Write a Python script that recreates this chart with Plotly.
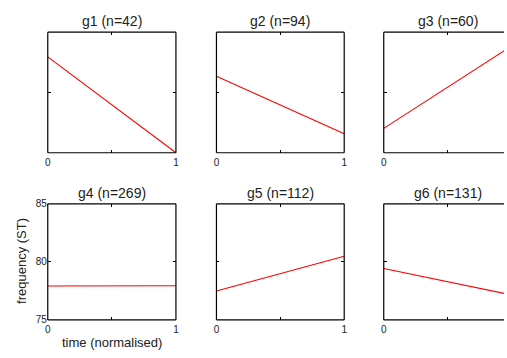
import plotly.graph_objects as go

titles = ["g1 (n=42)", "g2 (n=94)", "g3 (n=60)", "g4 (n=269)", "g5 (n=112)", "g6 (n=131)"]
time_pts = [0, 1]
g1_vals = [82.95, 75.0]
g2_vals = [81.34, 76.57]
g3_vals = [77.02, 83.85]
g4_vals = [77.92, 77.95]
g5_vals = [77.50, 80.49]
g6_vals = [79.43, 77.15]
series = [g1_vals, g2_vals, g3_vals, g4_vals, g5_vals, g6_vals]
x_tickvals = [0, 0.5, 1]
x_ticktext = ["0", "", "1"]
y_tickvals = [75, 80, 85]
y_ticktext = ["75", "80", "85"]

W, H = 507, 358
col_px = [(45.3, 175.0), (216.0, 345.3), (385.3, 507.0)]
row_px = [(28.0, 152.0), (204.5, 324.0)]
col3_full_right = 514.6

fig = go.Figure()
font = "Liberation Sans, Arial, sans-serif"
layout = dict(width=W, height=H, margin=dict(l=0, r=0, t=0, b=0),
              paper_bgcolor="white", plot_bgcolor="white", showlegend=False,
              font=dict(family=font, color="#222"))
annotations = []
shapes = []
for i, vals in enumerate(series):
    r, c = divmod(i, 3)
    idx = i + 1
    xa = "x" if idx == 1 else f"x{idx}"
    ya = "y" if idx == 1 else f"y{idx}"
    fig.add_trace(go.Scatter(x=time_pts, y=vals, mode="lines",
                             line=dict(color="#ff0000", width=1.1),
                             xaxis=xa, yaxis=ya, hoverinfo="skip"))
    x0, x1 = col_px[c]
    y0, y1 = row_px[r]
    xr = [0, 1]
    if c == 2:
        xr = [0, (x1 - x0) / (col3_full_right - x0)]
    xkey = "xaxis" if idx == 1 else f"xaxis{idx}"
    ykey = "yaxis" if idx == 1 else f"yaxis{idx}"
    layout[xkey] = dict(domain=[x0 / W, x1 / W], range=xr, anchor=ya,
                        showgrid=False, zeroline=False, showline=False,
                        mirror="allticks",
                        ticks="inside", ticklen=3, tickcolor="black", tickwidth=1,
                        tickvals=x_tickvals, ticktext=x_ticktext, ticklabelstandoff=2,
                        tickfont=dict(size=10, color="#222"), fixedrange=True)
    layout[ykey] = dict(domain=[1 - y1 / H, 1 - y0 / H], range=[75, 85], anchor=xa,
                        showgrid=False, zeroline=False, showline=False,
                        mirror=("allticks" if c < 2 else False),
                        ticks="inside", ticklen=3, tickcolor="black", tickwidth=1,
                        tickvals=y_tickvals,
                        ticktext=(y_ticktext if (r == 1 and c == 0) else ["", "", ""]),
                        tickfont=dict(size=10, color="#222"), fixedrange=True)
    lxr, lyr = f"{xa} domain", f"{ya} domain"
    edge = dict(color="black", width=1.2)
    shapes.append(dict(type="line", xref=lxr, yref=lyr, x0=0, x1=1, y0=0, y1=0, line=edge))
    shapes.append(dict(type="line", xref=lxr, yref=lyr, x0=0, x1=1, y0=1, y1=1, line=edge))
    shapes.append(dict(type="line", xref=lxr, yref=lyr, x0=0, x1=0, y0=0, y1=1, line=edge))
    if c < 2:
        shapes.append(dict(type="line", xref=lxr, yref=lyr, x0=1, x1=1, y0=0, y1=1, line=edge))
    full_x1 = col3_full_right if c == 2 else x1
    annotations.append(dict(text=titles[i], xref="paper", yref="paper",
                            x=((x0 + full_x1) / 2) / W, y=1 - (y0 - 11.5) / H,
                            xanchor="center", yanchor="middle", showarrow=False,
                            font=dict(size=14, color="#222", family=font)))

annotations.append(dict(text="frequency (ST)", xref="paper", yref="paper",
                        x=18.5 / W, y=1 - 263 / H, textangle=-90,
                        xanchor="center", yanchor="middle", showarrow=False,
                        font=dict(size=13, color="#222", family=font)))
annotations.append(dict(text="time (normalised)", xref="paper", yref="paper",
                        x=110 / W, y=1 - 347 / H,
                        xanchor="center", yanchor="middle", showarrow=False,
                        font=dict(size=13, color="#222", family=font)))
layout["annotations"] = annotations
layout["shapes"] = shapes
fig.update_layout(**layout)
fig.write_html("out.html", config={"displayModeBar": False},
               post_script="document.documentElement.style.margin='0';"
                           "document.documentElement.style.overflow='hidden';"
                           "document.body.style.margin='0';"
                           "document.body.style.overflow='hidden';")
